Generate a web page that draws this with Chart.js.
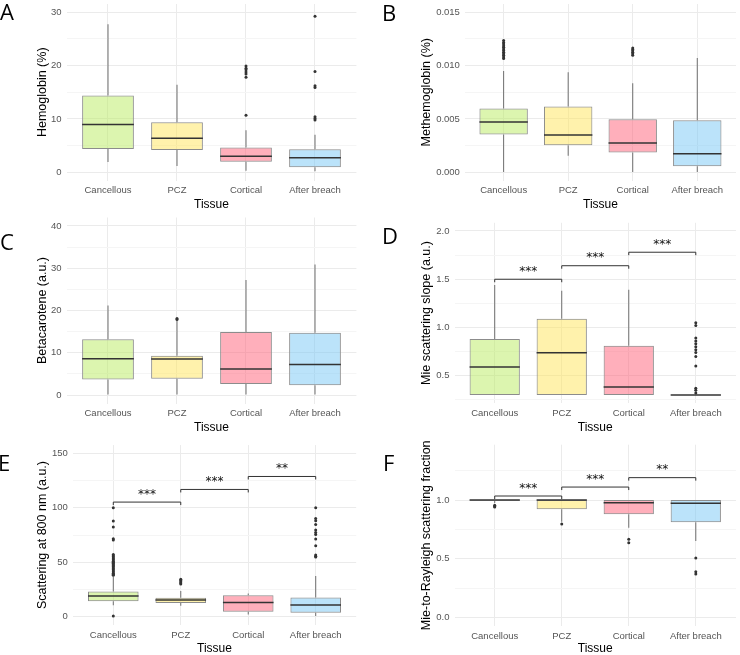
<!DOCTYPE html>
<html>
<head>
<meta charset="utf-8">
<script src="https://cdn.jsdelivr.net/npm/chart.js@4.4.0/dist/chart.umd.min.js"></script>
<style>
  body { margin:0; background:#fff; width:740px; height:655px; position:relative; overflow:hidden; }
  canvas { position:absolute; }
  .tag { position:absolute; font-family:"Open Sans"; font-size:22px; line-height:22px; color:#000; }
</style>
</head>
<body>
<canvas id="cA" width="370" height="214" style="left:0;top:0"></canvas>
<canvas id="cB" width="370" height="214" style="left:370px;top:0"></canvas>
<canvas id="cC" width="370" height="222" style="left:0;top:212px"></canvas>
<canvas id="cD" width="370" height="222" style="left:370px;top:212px"></canvas>
<canvas id="cE" width="370" height="223" style="left:0;top:432px"></canvas>
<canvas id="cF" width="370" height="223" style="left:370px;top:432px"></canvas>
<div class="tag" style="left:0;top:0">A</div>
<div class="tag" style="left:382px;top:1px">B</div>
<div class="tag" style="left:0;top:230px">C</div>
<div class="tag" style="left:382px;top:224px">D</div>
<div class="tag" style="left:-2px;top:451px">E</div>
<div class="tag" style="left:383px;top:451px">F</div>
<script>
var tissues = ['Cancellous', 'PCZ', 'Cortical', 'After breach'];

// A - hemoglobin
var hbLow  = [1.95, 1.2, 0.3, 0.25];
var hbQ1   = [4.4, 4.2, 2.0, 1.0];
var hbMed  = [8.95, 6.4, 3.05, 2.75];
var hbQ3   = [14.4, 9.4, 4.65, 4.35];
var hbHigh = [27.7, 16.4, 7.9, 7.05];
var hbOut  = [[], [], [19.9, 19.5, 19.2, 18.8, 18.4, 17.8, 10.7], [29.2, 18.9, 16.2, 15.9, 10.4, 10.1, 9.8]];
var hbTicks = [0, 10, 20, 30];
var hbTickLabels = ['0', '10', '20', '30'];

// B - methemoglobin
var metLow  = [0, 0.00156, 0, 0];
var metQ1   = [0.00356, 0.00255, 0.00187, 0.00058];
var metMed  = [0.00472, 0.0035, 0.00276, 0.00175];
var metQ3   = [0.00598, 0.00617, 0.00497, 0.00488];
var metHigh = [0.00948, 0.00936, 0.00834, 0.0107];
var metOut  = [[0.01233, 0.01215, 0.012, 0.01185, 0.0117, 0.01155, 0.0114, 0.01125, 0.0111, 0.01095, 0.0108, 0.01065], [],
               [0.01163, 0.0115, 0.01138, 0.01125, 0.0111, 0.01095], []];
var metTicks = [0, 0.005, 0.01, 0.015];
var metTickLabels = ['0.000', '0.005', '0.010', '0.015'];

// C - betacarotene
var betaLow  = [0, 0, 0, 0];
var betaQ1   = [3.7, 3.85, 2.6, 2.3];
var betaMed  = [8.6, 8.5, 6.15, 7.2];
var betaQ3   = [13.2, 9.3, 14.9, 14.75];
var betaHigh = [21.2, 17.6, 27.2, 30.9];
var betaOut  = [[], [18.1, 17.9], [], []];
var betaTicks = [0, 10, 20, 30, 40];
var betaTickLabels = ['0', '10', '20', '30', '40'];

// D - Mie scattering slope
var slopeLow  = [0.3, 0.3, 0.3, 0.3];
var slopeQ1   = [0.3, 0.3, 0.3, 0.3];
var slopeMed  = [0.59, 0.738, 0.383, 0.3];
var slopeQ3   = [0.88, 1.09, 0.81, 0.3];
var slopeHigh = [1.44, 1.38, 1.39, 0.3];
var slopeOut  = [[], [], [], [1.05, 1.02, 0.89, 0.86, 0.83, 0.8, 0.77, 0.74, 0.7, 0.6, 0.37, 0.35, 0.32]];
var slopeTicks = [0.5, 1.0, 1.5, 2.0];
var slopeTickLabels = ['0.5', '1.0', '1.5', '2.0'];
var slopeSigY = [1.5, 1.64, 1.78];
var slopeSigText = ['***', '***', '***'];

// E - scattering at 800 nm
var scatLow  = [10.5, 10.1, 2.1, 0.6];
var scatQ1   = [14.1, 12.5, 4.6, 3.7];
var scatMed  = [19.0, 15.3, 13.1, 10.7];
var scatQ3   = [23.2, 17.4, 19.6, 17.7];
var scatHigh = [36.7, 23.5, 21.4, 37.3];
var scatOut  = [[100, 87.8, 82.3, 71.6, 70.3, 57, 56, 55, 54, 53, 52, 51, 50, 49, 48, 47, 46, 45, 44, 43, 42, 41, 40, 39, 38, 0.6],
                [34.3, 33.2, 32.1, 31, 30], [],
                [100, 90.2, 88.1, 84.7, 79.5, 77.4, 75.5, 71.3, 65.1, 56.6, 55.5, 54.7]];
var scatTicks = [0, 50, 100, 150];
var scatTickLabels = ['0', '50', '100', '150'];
var scatSigY = [105.2, 116.8, 128.7];
var scatSigText = ['***', '***', '**'];

// F - Mie-to-Rayleigh fraction
var fracLow  = [0.975, 0.815, 0.765, 0.652];
var fracQ1   = [0.994, 0.921, 0.878, 0.81];
var fracMed  = [1.0, 1.0, 0.977, 0.972];
var fracQ3   = [1.0, 1.0, 1.0, 1.0];
var fracHigh = [1.0, 1.0, 1.0, 1.0];
var fracOut  = [[0.955, 0.945, 0.94], [0.795], [0.666, 0.637], [0.507, 0.391, 0.371]];
var fracTicks = [0, 0.5, 1.0];
var fracTickLabels = ['0.0', '0.5', '1.0'];
var fracSigY = [1.034, 1.11, 1.19];
var fracSigText = ['***', '***', '**'];

var fills = ['rgba(185,235,95,0.5)', 'rgba(255,230,90,0.5)', 'rgba(255,95,120,0.5)', 'rgba(120,200,245,0.5)'];
var axisFont = 'Liberation Sans, Arial, sans-serif';

function boxChart(id, low, q1, med, q3, high, out, yTitle, yMin, yMax, ticks, tickLabels, sigY, sigText, frame) {
  var step = ticks[1] - ticks[0];
  var allTicks = ticks.slice();
  for (var k = -1; k < ticks.length; k++) {
    var m = ticks[0] + (k + 0.5) * step;
    if (m > yMin && m < yMax) allTicks.push(m);
  }
  var pts = [];
  out.forEach(function (vals, i) { vals.forEach(function (v) { pts.push({x: i, y: v}); }); });

  var overlay = {
    id: 'overlay',
    afterDatasetsDraw: function (chart) {
      var ctx = chart.ctx, xs = chart.scales.x, ys = chart.scales.y;
      var meta = chart.getDatasetMeta(2);
      ctx.save();
      ctx.strokeStyle = '#333';
      ctx.lineWidth = 1.5;
      meta.data.forEach(function (el, i) {
        var y = ys.getPixelForValue(med[i]);
        ctx.beginPath();
        ctx.moveTo(el.x - el.width / 2, y);
        ctx.lineTo(el.x + el.width / 2, y);
        ctx.stroke();
      });
      if (sigY) {
        ctx.lineWidth = 1;
        ctx.strokeStyle = '#333';
        ctx.fillStyle = '#111';
        ctx.font = '12px "DejaVu Sans"';
        ctx.textAlign = 'center';
        ctx.textBaseline = 'alphabetic';
        sigY.forEach(function (v, i) {
          var x1 = xs.getPixelForValue(i), x2 = xs.getPixelForValue(i + 1);
          var y = ys.getPixelForValue(v);
          ctx.beginPath();
          ctx.moveTo(x1, y + 3);
          ctx.lineTo(x1, y);
          ctx.lineTo(x2, y);
          ctx.lineTo(x2, y + 3);
          ctx.stroke();
          ctx.fillText(sigText[i], (x1 + x2) / 2, y - 4.3);
        });
      }
      ctx.restore();
    }
  };

  new Chart(document.getElementById(id), {
    type: 'bar',
    data: {
      datasets: [
        { data: tissues.map(function (t, i) { return {x: i, y: [low[i], q1[i]]}; }),
          backgroundColor: '#6e6e6e', borderWidth: 0, maxBarThickness: 1, grouped: false, order: 3 },
        { data: tissues.map(function (t, i) { return {x: i, y: [q3[i], high[i]]}; }),
          backgroundColor: '#6e6e6e', borderWidth: 0, maxBarThickness: 1, grouped: false, order: 2 },
        { data: tissues.map(function (t, i) { return {x: i, y: [q1[i], q3[i]]}; }),
          backgroundColor: fills, borderColor: '#8c8c8c', borderWidth: 1, borderSkipped: false,
          barPercentage: 0.75, categoryPercentage: 1, grouped: false, order: 1 },
        { type: 'scatter', data: pts, pointRadius: 1.5, pointBackgroundColor: '#333',
          pointBorderWidth: 0, order: 0 }
      ]
    },
    options: {
      responsive: false,
      animation: false,
      layout: { padding: { left: 0, top: frame.top, right: frame.right, bottom: 0 } },
      plugins: { legend: { display: false }, tooltip: { enabled: false } },
      scales: {
        x: {
          type: 'linear', min: -0.6, max: 3.6, offset: false,
          grid: { offset: false, color: '#ebebeb', drawTicks: false },
          border: { display: false },
          afterBuildTicks: function (s) { s.ticks = tissues.map(function (t, i) { return {value: i}; }); },
          afterFit: function (s) { s.height = frame.xHeight; s.paddingLeft = 0; s.paddingRight = 0; },
          ticks: { autoSkip: false, maxRotation: 0, padding: 4.5, color: '#555',
                   font: { family: axisFont, size: 9.5 },
                   callback: function (v) { return tissues[v]; } },
          title: { display: true, text: 'Tissue', color: '#000',
                   font: { family: axisFont, size: 12, lineHeight: 1 }, padding: { top: 0, bottom: frame.xTitlePad } }
        },
        y: {
          min: yMin, max: yMax,
          grid: { drawTicks: false,
                  color: function (c) { return ticks.indexOf(c.tick.value) >= 0 ? '#ebebeb' : '#f5f5f5'; } },
          border: { display: false },
          afterBuildTicks: function (s) { s.ticks = allTicks.map(function (v) { return {value: v}; }); },
          afterFit: function (s) { s.width = frame.yWidth; s.paddingTop = 0; s.paddingBottom = 0; },
          ticks: { padding: 5, color: '#555', font: { family: axisFont, size: 9.5 },
                   callback: function (v) { var j = ticks.indexOf(v); return j >= 0 ? tickLabels[j] : ''; } },
          title: { display: true, text: yTitle, color: '#000',
                   font: { family: axisFont, size: 12.5, lineHeight: 1 }, padding: { top: frame.yTitlePad, bottom: 0 } }
        }
      }
    },
    plugins: [overlay]
  });
}

boxChart('cA', hbLow, hbQ1, hbMed, hbQ3, hbHigh, hbOut, 'Hemoglobin (%)', -1.5, 31.5, hbTicks, hbTickLabels, null, null,
  { yWidth: 66.6, top: 1.2, right: 13.6, xHeight: 33.5, yTitlePad: 36.7, xTitlePad: 3 });
boxChart('cB', metLow, metQ1, metMed, metQ3, metHigh, metOut, 'Methemoglobin (%)', -0.00075, 0.01575, metTicks, metTickLabels, null, null,
  { yWidth: 94.9, top: 1.2, right: 0, xHeight: 33.5, yTitlePad: 50.7, xTitlePad: 3 });
boxChart('cC', betaLow, betaQ1, betaMed, betaQ3, betaHigh, betaOut, 'Betacarotene (a.u.)', -2, 42, betaTicks, betaTickLabels, null, null,
  { yWidth: 66.6, top: 5.5, right: 13.6, xHeight: 30.5, yTitlePad: 36.7, xTitlePad: 0 });
boxChart('cD', slopeLow, slopeQ1, slopeMed, slopeQ3, slopeHigh, slopeOut, 'Mie scattering slope (a.u.)', 0.215, 2.085, slopeTicks, slopeTickLabels, slopeSigY, slopeSigText,
  { yWidth: 84.5, top: 10.8, right: 0, xHeight: 30.8, yTitlePad: 50.7, xTitlePad: 0 });
boxChart('cE', scatLow, scatQ1, scatMed, scatQ3, scatHigh, scatOut, 'Scattering at 800 nm (a.u.)', -7.5, 157.5, scatTicks, scatTickLabels, scatSigY, scatSigText,
  { yWidth: 72.8, top: 13.1, right: 13.8, xHeight: 30.1, yTitlePad: 36.7, xTitlePad: 0 });
boxChart('cF', fracLow, fracQ1, fracMed, fracQ3, fracHigh, fracOut, 'Mie-to-Rayleigh scattering fraction', -0.07, 1.47, fracTicks, fracTickLabels, fracSigY, fracSigText,
  { yWidth: 84.5, top: 12.7, right: 0, xHeight: 29.1, yTitlePad: 50.7, xTitlePad: 0 });
</script>
</body>
</html>
